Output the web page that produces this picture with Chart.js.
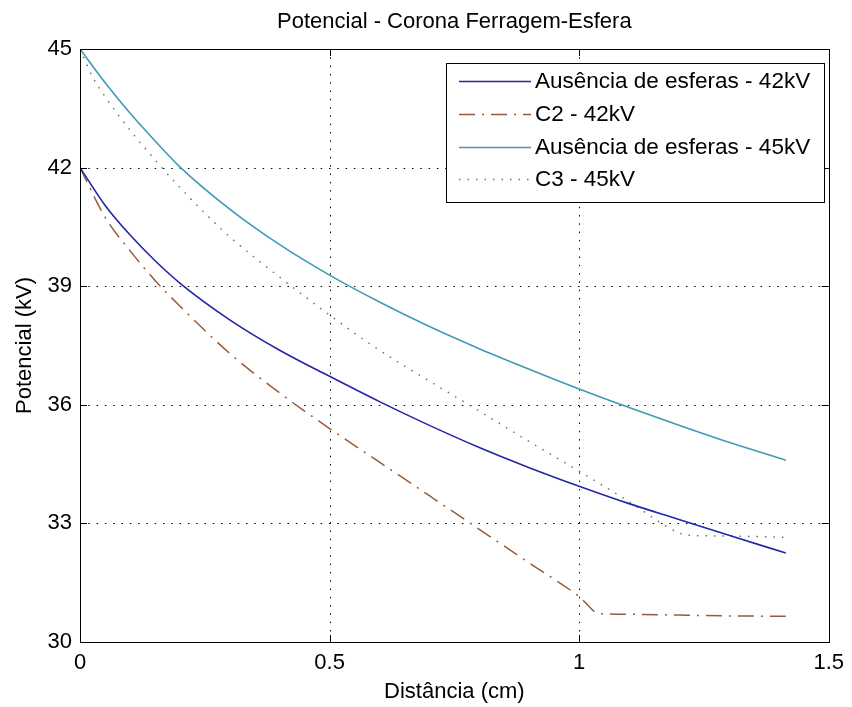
<!DOCTYPE html>
<html>
<head>
<meta charset="utf-8">
<script src="https://cdn.jsdelivr.net/npm/chart.js@4"></script>
<style>
  html, body { margin: 0; padding: 0; background: #fff; }
  #wrap { width: 852px; height: 707px; }
</style>
</head>
<body>
<div id="wrap"><canvas id="grafico" width="852" height="707"></canvas></div>
<script>
// Dados (distância em cm, potencial em kV)
const distAusencia = [0, 0.05, 0.1, 0.15, 0.2, 0.3, 0.4, 0.5, 0.6, 0.7, 0.8, 0.9, 1.0, 1.1, 1.2, 1.3, 1.414];
const ausencia42 = [42.0, 41.05, 40.3, 39.65, 39.08, 38.15, 37.38, 36.72, 36.08, 35.48, 34.92, 34.41, 33.94, 33.5, 33.1, 32.7, 32.25];
const ausencia45 = [45.0, 44.15, 43.38, 42.68, 42.02, 40.95, 40.05, 39.28, 38.6, 37.98, 37.42, 36.9, 36.4, 35.93, 35.48, 35.05, 34.6];

const distC2 = [0, 0.05, 0.1, 0.15, 0.2, 0.3, 0.4, 0.5, 0.6, 0.7, 0.8, 0.9, 1.0, 1.04, 1.1, 1.2, 1.3, 1.414];
const c2_42 = [42.0, 40.75, 39.9, 39.15, 38.5, 37.3, 36.3, 35.4, 34.55, 33.7, 32.85, 32.0, 31.15, 30.72, 30.7, 30.68, 30.66, 30.65];

const distC3 = [0, 0.025, 0.05, 0.1, 0.15, 0.2, 0.25, 0.3, 0.4, 0.5, 0.6, 0.7, 0.8, 0.9, 1.0, 1.1, 1.2, 1.22, 1.3, 1.414];
const c3_45 = [45.0, 44.3, 43.8, 42.95, 42.2, 41.5, 40.85, 40.25, 39.23, 38.27, 37.38, 36.6, 35.84, 35.07, 34.32, 33.55, 32.76, 32.7, 32.68, 32.65];

const ticksX = [0, 0.5, 1, 1.5];
const ticksY = [30, 33, 36, 39, 42, 45];

const titulo = 'Potencial - Corona Ferragem-Esfera';
const tituloX = 'Distância (cm)';
const tituloY = 'Potencial (kV)';
const fonte = '"Liberation Sans", Arial, sans-serif';

function pontos(xs, ys) {
    return xs.map((x, i) => ({ x: x, y: ys[i] }));
}

// Grelha pontilhada, caixa, marcas, títulos e legenda ao estilo MATLAB
const estiloMatlab = {
    id: 'estiloMatlab',
    beforeDatasetsDraw(chart) {
        const ctx = chart.ctx;
        const a = chart.chartArea;
        const sx = chart.scales.x, sy = chart.scales.y;
        ctx.save();
        ctx.strokeStyle = '#000';
        ctx.lineWidth = 1;
        ctx.setLineDash([1.5, 6.8]);
        ticksX.forEach(v => {
            const px = Math.round(sx.getPixelForValue(v)) + 0.5;
            ctx.beginPath(); ctx.moveTo(px, a.top); ctx.lineTo(px, a.bottom); ctx.stroke();
        });
        ticksY.forEach(v => {
            const py = Math.round(sy.getPixelForValue(v)) + 0.5;
            ctx.beginPath(); ctx.moveTo(a.left, py); ctx.lineTo(a.right, py); ctx.stroke();
        });
        ctx.restore();
    },
    afterDatasetsDraw(chart) {
        const ctx = chart.ctx;
        const a = chart.chartArea;
        const sx = chart.scales.x, sy = chart.scales.y;
        ctx.save();
        ctx.strokeStyle = '#000';
        ctx.lineWidth = 1;
        ctx.setLineDash([]);
        ctx.strokeRect(Math.round(a.left) + 0.5, Math.round(a.top) + 0.5,
            Math.round(a.right - a.left), Math.round(a.bottom - a.top));
        const tam = 7;
        ticksX.forEach(v => {
            const px = Math.round(sx.getPixelForValue(v)) + 0.5;
            ctx.beginPath();
            ctx.moveTo(px, a.bottom); ctx.lineTo(px, a.bottom - tam);
            ctx.moveTo(px, a.top); ctx.lineTo(px, a.top + tam);
            ctx.stroke();
        });
        ticksY.forEach(v => {
            const py = Math.round(sy.getPixelForValue(v)) + 0.5;
            ctx.beginPath();
            ctx.moveTo(a.left, py); ctx.lineTo(a.left + tam, py);
            ctx.moveTo(a.right, py); ctx.lineTo(a.right - tam, py);
            ctx.stroke();
        });

        // Títulos
        ctx.fillStyle = '#000';
        ctx.font = '22px ' + fonte;
        ctx.textAlign = 'center';
        ctx.textBaseline = 'middle';
        const cx = (a.left + a.right) / 2;
        ctx.fillText(titulo, cx, 22);
        ctx.fillText(tituloX, cx, 692);
        ctx.save();
        ctx.translate(25, (a.top + a.bottom) / 2);
        ctx.rotate(-Math.PI / 2);
        ctx.fillText(tituloY, 0, 0);
        ctx.restore();

        // Legenda dentro do gráfico
        const lx = 446.5, ly = 63.5, lw = 378, lh = 139;
        ctx.fillStyle = '#fff';
        ctx.fillRect(lx, ly, lw, lh);
        ctx.strokeStyle = '#000';
        ctx.strokeRect(lx, ly, lw, lh);
        const linhas = [81, 114, 147, 179];
        chart.data.datasets.forEach((ds, i) => {
            const y = linhas[i] + 0.5;
            ctx.strokeStyle = ds.borderColor;
            ctx.lineWidth = ds.borderWidth;
            ctx.setLineDash(ds.borderDash || []);
            ctx.beginPath(); ctx.moveTo(459, y); ctx.lineTo(531, y); ctx.stroke();
            ctx.setLineDash([]);
            ctx.fillStyle = '#000';
            ctx.textAlign = 'left';
            ctx.textBaseline = 'middle';
            ctx.font = '22.5px ' + fonte;
            ctx.fillText(ds.label, 535, linhas[i] + 1);
        });
        ctx.restore();
    }
};

new Chart(document.getElementById('grafico'), {
    type: 'line',
    data: {
        datasets: [
            {
                label: 'Ausência de esferas - 42kV',
                data: pontos(distAusencia, ausencia42),
                borderColor: '#2525a8',
                borderWidth: 1.6
            },
            {
                label: 'C2 - 42kV',
                data: pontos(distC2, c2_42),
                borderColor: '#985c38',
                borderWidth: 1.5,
                borderDash: [16, 7, 2, 7]
            },
            {
                label: 'Ausência de esferas - 45kV',
                data: pontos(distAusencia, ausencia45),
                borderColor: '#3f9bb5',
                borderWidth: 1.6
            },
            {
                label: 'C3 - 45kV',
                data: pontos(distC3, c3_45),
                borderColor: '#6a746a',
                borderWidth: 1.5,
                borderDash: [1.5, 7]
            }
        ]
    },
    options: {
        responsive: false,
        animation: false,
        layout: { padding: { top: 49, right: 20, left: 0, bottom: 0 } },
        elements: {
            point: { radius: 0 },
            line: { cubicInterpolationMode: 'monotone', fill: false }
        },
        plugins: {
            legend: { display: false },
            title: { display: false },
            tooltip: { enabled: false }
        },
        scales: {
            x: {
                type: 'linear',
                min: 0, max: 1.5,
                grid: { display: false, drawTicks: false },
                border: { display: false },
                ticks: {
                    stepSize: 0.5,
                    padding: 8,
                    color: '#000',
                    font: { size: 22, family: fonte },
                    maxRotation: 0,
                    callback: v => String(v)
                },
                afterFit: s => { s.height = 65; }
            },
            y: {
                type: 'linear',
                min: 30, max: 45,
                grid: { display: false, drawTicks: false },
                border: { display: false },
                ticks: {
                    stepSize: 3,
                    padding: 8,
                    color: '#000',
                    font: { size: 22, family: fonte },
                    callback: v => String(v)
                },
                afterFit: s => { s.width = 80; }
            }
        }
    },
    plugins: [estiloMatlab]
});
</script>
</body>
</html>
